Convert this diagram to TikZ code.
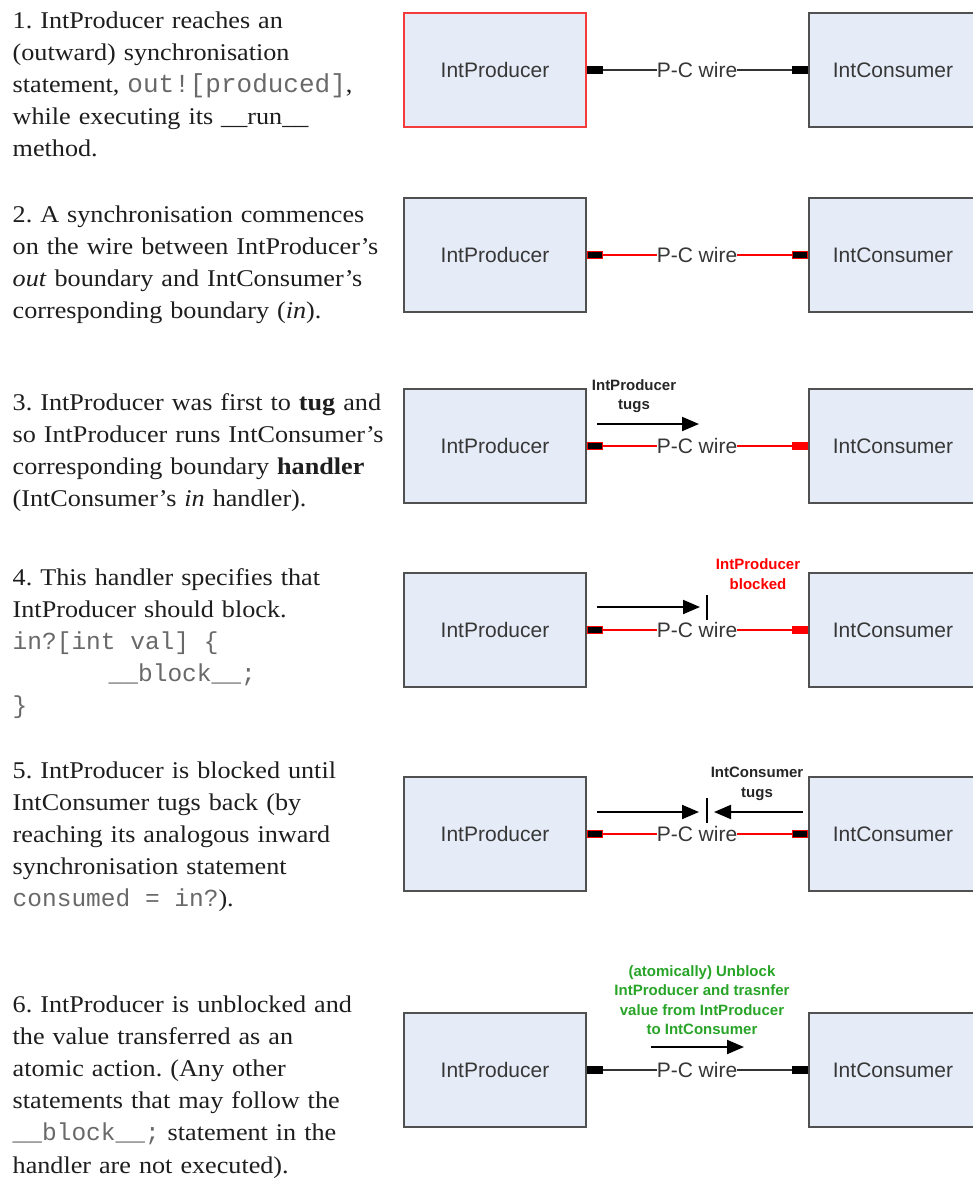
\documentclass[tikz,border=0pt]{standalone}
\usepackage{fontspec}
\setmainfont{Liberation Serif}[FakeStretch=1.09]
\setmonofont{Liberation Mono}
\newfontfamily\arialfam{Liberation Sans}
\usetikzlibrary{arrows.meta}

\definecolor{boxfill}{RGB}{229,235,247}
\definecolor{boxline}{RGB}{80,80,80}
\definecolor{bodytext}{RGB}{30,30,30}
\definecolor{codegray}{RGB}{105,105,105}
\definecolor{labelgray}{RGB}{55,55,55}
\definecolor{alarmred}{RGB}{255,0,0}
\definecolor{hotborder}{RGB}{245,60,60}
\definecolor{okgreen}{RGB}{40,165,40}

% inline code: grey monospace with full-width spaces
\newcommand\code[2][24.5]{{\color{codegray}\ttfamily\fontsize{#1}{32.2}\selectfont\spaceskip=0.6em\relax #2}}

\begin{document}
\begin{tikzpicture}[x=1pt,y=-1pt,
  para/.style={anchor=base west, inner sep=0pt, text width=400pt, align=left,
    text=bodytext, font=\fontsize{24}{32.2}\selectfont\frenchspacing},
  compbox/.style={draw=boxline, line width=2pt, fill=boxfill, minimum height=114pt,
    inner sep=0pt, text=labelgray, font=\arialfam\fontsize{21}{25}\selectfont},
  prodbox/.style={compbox, minimum width=182pt},
  consbox/.style={compbox, minimum width=168pt},
  port/.style={rectangle, inner sep=0pt, minimum width=15pt, minimum height=7pt,
    line width=1pt, fill=black, draw=black},
  armedport/.style={port, draw=alarmred},
  hotport/.style={port, fill=alarmred, draw=alarmred},
  wirelabel/.style={inner sep=0pt, fill=white, text=labelgray,
    font=\arialfam\fontsize{21}{25}\selectfont},
  plainwire/.style={draw=black!80, line width=2pt},
  redwire/.style={draw=alarmred, line width=1.5pt},
  tug/.style={line width=2pt, -{Triangle[length=17pt,width=14pt]}},
  blockbar/.style={line width=2pt},
  note/.style={align=center, inner sep=0pt,
    font=\arialfam\bfseries\fontsize{15}{19.5}\selectfont}
]
\useasboundingbox (0,0) rectangle (972,1178);
\fill[white] (0,0) rectangle (972,1178);

% ---------------- step texts ----------------
\node[para] (t1) at (12.5,28) {1. IntProducer reaches an\\
(outward) synchronisation\\
statement, \code[26]{out![produced]},\\
while executing its \_\_run\_\_\\
method.};

\node[para] (t2) at (12.5,222) {2. A synchronisation commences\\
on the wire between IntProducer's\\
\textit{out} boundary and IntConsumer's\\
corresponding boundary (\textit{in}).};

\node[para] (t3) at (12.5,410) {3. IntProducer was first to \textbf{tug} and\\
so IntProducer runs IntConsumer's\\
corresponding boundary \textbf{handler}\\
(IntConsumer's \textit{in} handler).};

\node[para] (t4) at (12.5,585) {4. This handler specifies that\\
IntProducer should block.\\
\code{in?[int val] \{}\\
\hspace*{96pt}\code{\_\_block\_\_;}\\
\code{\}}};

\node[para] (t5) at (12.5,778) {5. IntProducer is blocked until\\
IntConsumer tugs back (by\\
reaching its analogous inward\\
synchronisation statement\\
\code{consumed = in?}).};

\node[para] (t6) at (12.5,1012) {6. IntProducer is unblocked and\\
the value transferred as an\\
atomic action. (Any other\\
statements that may follow the\\
\code{\_\_block\_\_;} statement in the\\
handler are not executed).};

% ---------------- panel 1: producer reaches out![...] ----------------
\node[prodbox, draw=hotborder] (prod1) at (495,70) {IntProducer};
\node[consbox] (cons1) at (893,70) {IntConsumer};
\node[port, anchor=west] (pp1) at (prod1.east) {};
\node[port, anchor=east] (cp1) at (cons1.west) {};
\node[wirelabel] (w1) at (697,70) {P-C wire};
\draw[plainwire] (pp1.east) -- (w1.west);
\draw[plainwire] (w1.east) -- (cp1.west);

% ---------------- panel 2: synchronisation commences ----------------
\node[prodbox] (prod2) at (495,255) {IntProducer};
\node[consbox] (cons2) at (893,255) {IntConsumer};
\node[armedport, anchor=west] (pp2) at (prod2.east) {};
\node[armedport, anchor=east] (cp2) at (cons2.west) {};
\node[wirelabel] (w2) at (697,255) {P-C wire};
\draw[redwire] (pp2.east) -- (w2.west);
\draw[redwire] (w2.east) -- (cp2.west);

% ---------------- panel 3: producer tugs ----------------
\node[prodbox] (prod3) at (495,446) {IntProducer};
\node[consbox] (cons3) at (893,446) {IntConsumer};
\node[armedport, anchor=west] (pp3) at (prod3.east) {};
\node[hotport, anchor=east] (cp3) at (cons3.west) {};
\node[wirelabel] (w3) at (697,446) {P-C wire};
\draw[redwire] (pp3.east) -- (w3.west);
\draw[redwire] (w3.east) -- (cp3.west);
\node[note, text=black!85] (n3) at (634,396) {IntProducer\\tugs};
\coordinate (a3s) at (597,424);
\coordinate (a3e) at (699,424);
\draw[tug] (a3s) -- (a3e);

% ---------------- panel 4: producer blocked ----------------
\node[prodbox] (prod4) at (495,630) {IntProducer};
\node[consbox] (cons4) at (893,630) {IntConsumer};
\node[armedport, anchor=west] (pp4) at (prod4.east) {};
\node[hotport, anchor=east] (cp4) at (cons4.west) {};
\node[wirelabel] (w4) at (697,630) {P-C wire};
\draw[redwire] (pp4.east) -- (w4.west);
\draw[redwire] (w4.east) -- (cp4.west);
\node[note, text=alarmred] (n4) at (758,574) {IntProducer\\blocked};
\coordinate (a4s) at (597,607);
\coordinate (a4e) at (700,607);
\draw[tug] (a4s) -- (a4e);
\coordinate (b4t) at (707,595);
\coordinate (b4b) at (707,620);
\draw[blockbar] (b4t) -- (b4b);

% ---------------- panel 5: consumer tugs back ----------------
\node[prodbox] (prod5) at (495,834) {IntProducer};
\node[consbox] (cons5) at (893,834) {IntConsumer};
\node[armedport, anchor=west] (pp5) at (prod5.east) {};
\node[armedport, anchor=east] (cp5) at (cons5.west) {};
\node[wirelabel] (w5) at (697,834) {P-C wire};
\draw[redwire] (pp5.east) -- (w5.west);
\draw[redwire] (w5.east) -- (cp5.west);
\node[note, text=black!85] (n5) at (757,784) {IntConsumer\\tugs};
\coordinate (a5s) at (597,812);
\coordinate (a5e) at (699,812);
\draw[tug] (a5s) -- (a5e);
\coordinate (a5r) at (803,812);
\coordinate (a5l) at (714,812);
\draw[tug] (a5r) -- (a5l);
\coordinate (b5t) at (707,798);
\coordinate (b5b) at (707,823);
\draw[blockbar] (b5t) -- (b5b);

% ---------------- panel 6: atomic transfer ----------------
\node[prodbox] (prod6) at (495,1070) {IntProducer};
\node[consbox] (cons6) at (893,1070) {IntConsumer};
\node[port, anchor=west] (pp6) at (prod6.east) {};
\node[port, anchor=east] (cp6) at (cons6.west) {};
\node[wirelabel] (w6) at (697,1070) {P-C wire};
\draw[plainwire] (pp6.east) -- (w6.west);
\draw[plainwire] (w6.east) -- (cp6.west);
\node[note, text=okgreen] (n6) at (702,1000) {(atomically) Unblock\\IntProducer and trasnfer\\value from IntProducer\\to IntConsumer};
\coordinate (a6s) at (651,1047);
\coordinate (a6e) at (744,1047);
\draw[tug] (a6s) -- (a6e);
\end{tikzpicture}
\end{document}
